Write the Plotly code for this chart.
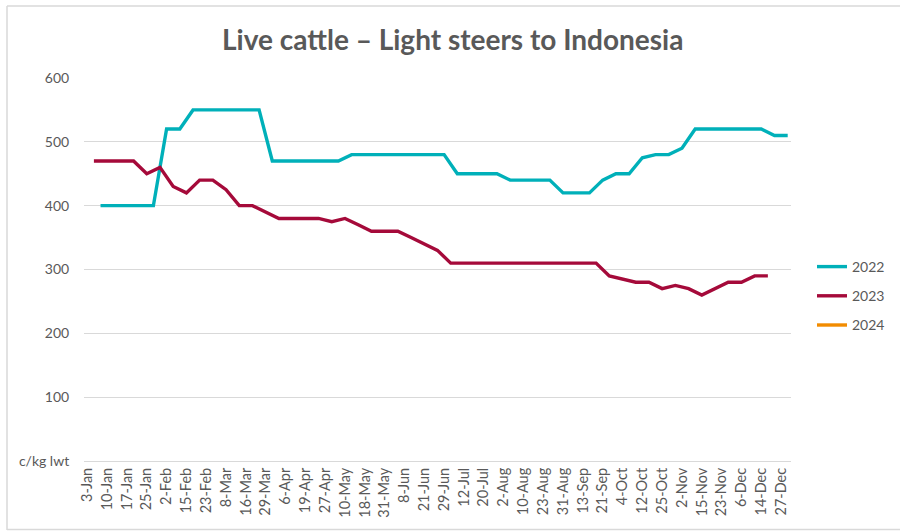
import plotly.graph_objects as go

# Tick labels shown on the category axis (every 3rd category)
tick_labels = ["3-Jan", "10-Jan", "17-Jan", "25-Jan", "2-Feb", "15-Feb", "23-Feb", "8-Mar",
               "16-Mar", "29-Mar", "6-Apr", "19-Apr", "27-Apr", "10-May", "18-May", "31-May",
               "8-Jun", "21-Jun", "29-Jun", "12-Jul", "20-Jul", "2-Aug", "10-Aug", "23-Aug",
               "31-Aug", "13-Sep", "21-Sep", "4-Oct", "12-Oct", "25-Oct", "2-Nov", "15-Nov",
               "23-Nov", "6-Dec", "14-Dec", "27-Dec"]
n_categories = 107
label_step = 3

# Weekly prices, c/kg lwt
values_2022 = [400, 400, 400, 400, 400,
               520, 520,
               550, 550, 550, 550, 550, 550,
               470, 470, 470, 470, 470, 470,
               480, 480, 480, 480, 480, 480, 480, 480,
               450, 450, 450, 450,
               440, 440, 440, 440,
               420, 420, 420,
               440,
               450, 450,
               475,
               480, 480,
               490,
               520, 520, 520, 520, 520, 520,
               510, 510]
start_2022 = 2

values_2023 = [470, 470, 470, 470,
               450, 460, 430, 420, 440, 440, 425, 400, 400, 390,
               380, 380, 380, 380,
               375, 380, 370,
               360, 360, 360,
               350, 340, 330,
               310, 310, 310, 310, 310, 310, 310, 310, 310, 310, 310, 310,
               290, 285, 280, 280, 270, 275, 270, 260, 270, 280, 280, 290, 290]
start_2023 = 1

values_2024 = []

week_step = 2

series = [
    ("2022", values_2022, start_2022, "#00B0B9"),
    ("2023", values_2023, start_2023, "#A50A3A"),
    ("2024", values_2024, 0, "#F28C00"),
]

y_ticks = [0, 100, 200, 300, 400, 500, 600]
y_tick_text = ["c/kg lwt", "100", "200", "300", "400", "500", "600"]

fig = go.Figure()
for i, (name, vals, start, color) in enumerate(series):
    xs = [start + week_step * k for k in range(len(vals))]
    ys = list(vals)
    if not vals:
        xs, ys = [0], [None]
    fig.add_trace(go.Scatter(
        x=xs, y=ys, name=name, mode="lines",
        line=dict(color=color, width=3.4),
        legendgroup=name,
    ))

PL, PR, PT, PB = 84, 791, 78, 461
W, H = 900, 531
pw, ph = PR - PL, PB - PT

def px_x(x):
    return (x - PL) / pw

def px_y(y):
    return (PB - y) / ph

frame = dict(type="line", xref="paper", yref="paper", line=dict(color="#D9D9D9", width=1.5))
shapes = [
    dict(frame, x0=px_x(7), x1=px_x(900), y0=px_y(6), y1=px_y(6)),
    dict(frame, x0=px_x(7), x1=px_x(7), y0=px_y(6), y1=px_y(530)),
    dict(frame, x0=px_x(7), x1=px_x(900), y0=px_y(529.5), y1=px_y(529.5)),
]

fig.update_layout(
    width=W, height=H,
    margin=dict(l=PL, r=W - PR, t=PT, b=H - PB, autoexpand=False),
    paper_bgcolor="white", plot_bgcolor="white",
    font=dict(family="Lato, Calibri, sans-serif", color="#595959", size=14),
    title=dict(text="<b>Live cattle – Light steers to Indonesia</b>",
               x=0.503, xanchor="center", y=1 - 40 / H, yanchor="middle", yref="container",
               font=dict(size=28, color="#595959")),
    xaxis=dict(
        range=[-0.5, n_categories - 0.5],
        tickmode="array",
        tickvals=[label_step * i for i in range(len(tick_labels))],
        ticktext=tick_labels,
        tickangle=-90,
        showgrid=False, zeroline=False,
        showline=True, linecolor="#D9D9D9", linewidth=1,
        ticks="", tickfont=dict(size=14.5, color="#595959"),
        fixedrange=True,
    ),
    yaxis=dict(
        range=[0, 600],
        tickmode="array", tickvals=y_ticks, ticktext=y_tick_text,
        showgrid=True, gridcolor="#D9D9D9", gridwidth=1,
        zeroline=False, showline=False,
        ticks="outside", ticklen=11, tickcolor="rgba(0,0,0,0)",
        tickfont=dict(size=14, color="#595959"),
        fixedrange=True,
    ),
    legend=dict(
        xref="container", yref="container",
        x=812 / W, xanchor="left", y=1 - 251 / H, yanchor="top",
        font=dict(size=14, color="#595959"),
        tracegroupgap=8, bgcolor="rgba(0,0,0,0)",
    ),
    shapes=shapes,
    showlegend=True,
)

fig.write_html("out.html", config={"displayModeBar": False},
               post_script="document.body.style.margin='0';document.body.style.overflow='hidden';")
